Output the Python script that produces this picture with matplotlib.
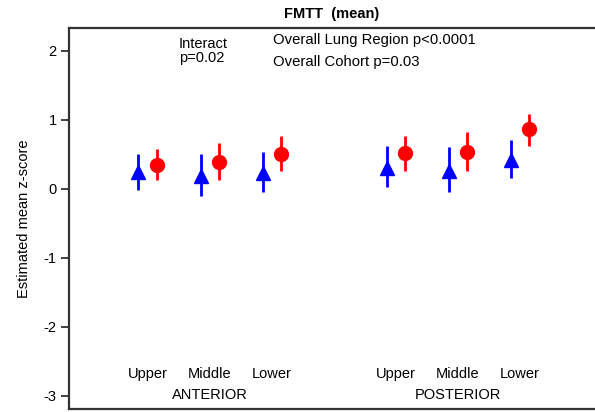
import numpy as np
import matplotlib
matplotlib.use('Agg')
import matplotlib.pyplot as plt

plt.rcParams['font.family'] = ['Liberation Sans', 'DejaVu Sans']
plt.rcParams['axes.unicode_minus'] = False

# lung regions, two groups of three
regions = ['Upper', 'Middle', 'Lower', 'Upper', 'Middle', 'Lower']
groups = ['ANTERIOR', 'POSTERIOR']
xpos = np.array([1, 2, 3, 5, 6, 7])

# cohort 1 (blue triangles)
tri_mean = [0.24, 0.18, 0.23, 0.30, 0.25, 0.41]
tri_lo = [-0.02, -0.11, -0.05, 0.03, -0.05, 0.16]
tri_hi = [0.51, 0.51, 0.53, 0.62, 0.60, 0.70]

# cohort 2 (red circles)
circ_mean = [0.35, 0.39, 0.50, 0.52, 0.53, 0.86]
circ_lo = [0.12, 0.12, 0.25, 0.26, 0.25, 0.62]
circ_hi = [0.58, 0.66, 0.76, 0.77, 0.82, 1.09]

fig = plt.figure(figsize=(5.95, 4.12), dpi=100)
ax = fig.add_axes([0.116, 0.0073, 0.884, 0.925])

off = 0.15
tm = np.array(tri_mean)
cm = np.array(circ_mean)
ax.errorbar(xpos - off, tm, yerr=[tm - np.array(tri_lo), np.array(tri_hi) - tm],
            fmt='^', color='#0000ff', ms=10, elinewidth=2, capsize=0)
ax.errorbar(xpos + off, cm, yerr=[cm - np.array(circ_lo), np.array(circ_hi) - cm],
            fmt='o', color='#ff0000', ms=10, elinewidth=2, capsize=0)

ax.set_xlim(-0.27, 8.21)
ax.set_ylim(-3.19, 2.33)
ax.set_xticks([])
ax.set_yticks([2, 1, 0, -1, -2, -3])
ax.tick_params(axis='y', length=6, width=1.3, labelsize=10.5, pad=3, color='#333333')
ax.spines['right'].set_visible(False)
for s in ['left', 'top', 'bottom']:
    ax.spines[s].set_linewidth(1.6)
    ax.spines[s].set_color('#333333')

for x, r in zip(xpos, regions):
    ax.text(x, -2.68, r, ha='center', va='center', fontsize=10.5)
ax.text(2, -2.99, groups[0], ha='center', va='center', fontsize=10.5)
ax.text(6, -2.99, groups[1], ha='center', va='center', fontsize=10.5)

ax.text(1.5, 2.2, 'Interact\np=0.02', ha='left', va='top', fontsize=10.5, linespacing=1.0)
ax.text(3.02, 2.15, 'Overall Lung Region p<0.0001', ha='left', va='center', fontsize=10.7)
ax.text(3.02, 1.84, 'Overall Cohort p=0.03', ha='left', va='center', fontsize=10.7)

ax.set_ylabel('Estimated mean z-score', fontsize=10.5, labelpad=9)
ax.set_title('FMTT  (mean)', fontsize=10.5, fontweight='bold', pad=7)

plt.savefig('out.png', dpi=100)
